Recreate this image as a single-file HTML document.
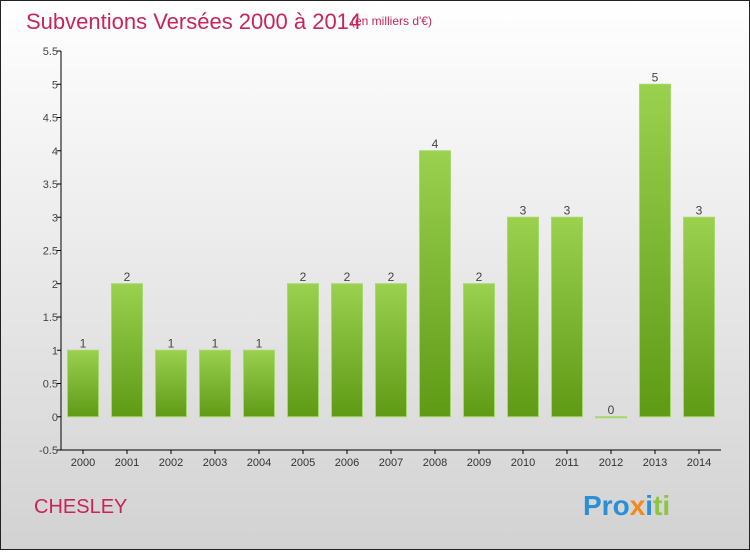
<!DOCTYPE html>
<html><head><meta charset="utf-8"><style>
body{margin:0}
#c{width:750px;height:550px;position:relative;font-family:"Liberation Sans",sans-serif}
</style></head><body>
<div id="c">
<svg width="750" height="550" xmlns="http://www.w3.org/2000/svg" id="svg">
<defs>
<linearGradient id="bg" x1="0" y1="0" x2="0" y2="1"><stop offset="0" stop-color="#ffffff"/><stop offset="1" stop-color="#d2d2d2"/></linearGradient>
<linearGradient id="bar" x1="0" y1="0" x2="0" y2="1"><stop offset="0" stop-color="#9ad14f"/><stop offset="1" stop-color="#5f9a15"/></linearGradient>
</defs>
<rect x="0.5" y="0.5" width="749" height="549" fill="url(#bg)" stroke="#222"/>
<text x="26" y="29" font-size="22" fill="#c8245a">Subventions Versées 2000 à 2014</text>
<text x="351" y="25" font-size="12" fill="#c8245a">(en milliers d'€)</text>
<text x="34" y="513" font-size="20" fill="#c8245a">CHESLEY</text>
<text x="583" y="515" font-size="28" font-weight="bold"><tspan fill="#2b8fd6">Pro</tspan><tspan fill="#f08a1c">x</tspan><tspan fill="#2b8fd6">i</tspan><tspan fill="#8cc63f">ti</tspan></text>
<g id="plot"></g>
</svg>
</div>
<script>
const categories=["2000","2001","2002","2003","2004","2005","2006","2007","2008","2009","2010","2011","2012","2013","2014"];
const values=[1,2,1,1,1,2,2,2,4,2,3,3,0,5,3];
const yTicks=["-0.5","0","0.5","1","1.5","2","2.5","3","3.5","4","4.5","5","5.5"];
const NS="http://www.w3.org/2000/svg";
const g=document.getElementById('plot');
const x0=61,x1=721,yMin=-0.5,yMax=5.5,yTop=51,yBot=450;
const y=v=>yBot-(v-yMin)/(yMax-yMin)*(yBot-yTop);
const step=(x1-x0)/categories.length;
const xc=i=>x0+step*(i+0.5);
function el(t,a){const e=document.createElementNS(NS,t);for(const k in a)e.setAttribute(k,a[k]);g.appendChild(e);return e;}
let e=el('line',{x1:x0,y1:yTop,x2:x0,y2:yBot,stroke:'#000'});


e=el('line',{x1:x0,y1:yBot,x2:x1,y2:yBot,stroke:'#000'});


yTicks.forEach(t=>{const v=parseFloat(t),yy=y(v);
 el('line',{x1:x0-4,y1:yy,x2:x0,y2:yy,stroke:'#000'});
 const tx=el('text',{x:x0-3,y:yy+4,'font-size':11,fill:'#444','text-anchor':'end'});tx.textContent=t;
 
 
});
categories.forEach((c,i)=>{const cx=xc(i),v=values[i];
 el('line',{x1:cx,y1:yBot,x2:cx,y2:yBot+4,stroke:'#000'});
 const tl=el('text',{x:cx,y:yBot+16,'font-size':11,fill:'#333','text-anchor':'middle'});tl.textContent=c;
 
 
 const top=Math.min(y(v),y(0)),h=Math.max(Math.abs(y(0)-y(v)),1);
 const r=el('rect',{x:cx-15.5,y:top,width:31,height:h,fill:'url(#bar)',stroke:'#a6d86a','stroke-width':1});
 
 
 const vl=el('text',{x:cx,y:top-3,'font-size':12,fill:'#444','text-anchor':'middle'});vl.textContent=String(v);
 
 
});
</script>
</body></html>
